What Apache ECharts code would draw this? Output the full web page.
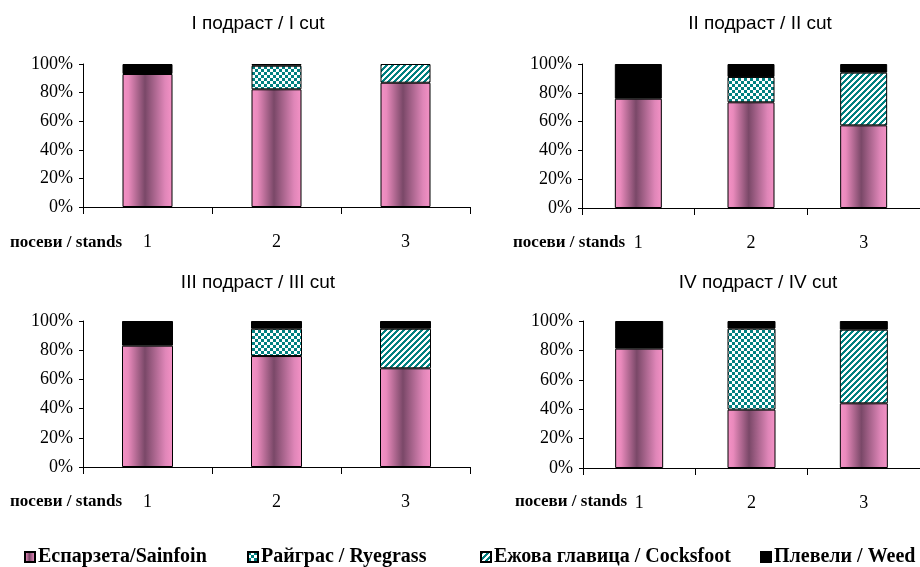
<!DOCTYPE html>
<html><head><meta charset="utf-8">
<script src="https://cdn.jsdelivr.net/npm/echarts@6/dist/echarts.min.js"></script>
<style>html,body{margin:0;padding:0;background:#fff}#c{width:920px;height:567px}</style>
</head><body><div id="c"></div><script>
// ---- data ----
const categories = ['1', '2', '3'];
const panelTitles = ['I подраст / I cut', 'II подраст / II cut', 'III подраст / III cut', 'IV подраст / IV cut'];
const xAxisName = 'посеви / stands';
const seriesNames = ['Еспарзета/Sainfoin', 'Райграс / Ryegrass', 'Ежова главица / Cocksfoot', 'Плевели / Weed'];
const yMin = 0, yMax = 100, yStep = 20;
const sainfoin  = [[93, 82.3, 86.9], [75.9, 73.4, 57.4], [83.1, 76, 67.6], [81.2, 39.7, 44]];
const ryegrass  = [[null, 16.5, null], [null, 17.6, null], [null, 18.7, null], [null, 55.1, null]];
const cocksfoot = [[null, null, 13.1], [null, null, 36.6], [null, null, 27.1], [null, null, 50.1]];
const weeds     = [[7, 1.2, null], [24.1, 9, 6], [16.9, 5.3, 5.3], [18.8, 5.2, 5.9]];

// ---- layout / styles ----
const grids = [
  {left: 83, top: 64, width: 387, height: 143},
  {left: 582, top: 64, width: 351, height: 144},
  {left: 83, top: 321, width: 387, height: 146},
  {left: 583, top: 321, width: 360, height: 147}
];
const barWidths = [50, 47, 51, 48];
const titlePos = [[258, 24], [760, 24], [258, 283], [758, 283]];
const namePos = [[10, 243], [513, 243], [10, 502], [515, 502]];
const legendLeft = [24, 247, 480, 760];
const TEAL = '#008080';
const serif = '"Liberation Serif", "Times New Roman", serif';
const sans = '"Liberation Sans", Arial, sans-serif';

function checker() {
  const c = document.createElement('canvas'); c.width = 6; c.height = 6;
  const g = c.getContext('2d');
  g.fillStyle = '#fff'; g.fillRect(0, 0, 6, 6);
  g.fillStyle = TEAL; g.fillRect(0, 0, 3, 3); g.fillRect(3, 3, 3, 3);
  return c;
}
function diag() {
  const c = document.createElement('canvas'); c.width = 6; c.height = 6;
  const g = c.getContext('2d');
  for (let x = 0; x < 6; x++) for (let y = 0; y < 6; y++) {
    g.fillStyle = ((x + y) % 6) < 3 ? TEAL : '#fff';
    g.fillRect(x, y, 1, 1);
  }
  return c;
}
const sainfoinColor = new echarts.graphic.LinearGradient(0, 0, 1, 0, [
  {offset: 0, color: '#f592c6'},
  {offset: 0.12, color: '#e98abc'},
  {offset: 0.45, color: '#7a4868'},
  {offset: 0.85, color: '#df86b8'},
  {offset: 1, color: '#f592c6'}
]);
const colors = [sainfoinColor, {image: checker(), repeat: 'repeat'}, {image: diag(), repeat: 'repeat'}, '#000'];
const dataSets = [sainfoin, ryegrass, cocksfoot, weeds];

const xAxes = [], yAxes = [], series = [], graphics = [];
grids.forEach((g, i) => {
  xAxes.push({
    type: 'category', gridIndex: i, data: categories,
    axisLine: {lineStyle: {color: '#000', width: 1}},
    axisTick: {show: true, length: 7, lineStyle: {color: '#000'}},
    axisLabel: {margin: 26, fontFamily: serif, fontSize: 18, color: '#000'},
    splitLine: {show: false}
  });
  yAxes.push({
    type: 'value', gridIndex: i, min: yMin, max: yMax, interval: yStep,
    axisLine: {show: true, lineStyle: {color: '#000', width: 1}},
    axisTick: {show: true, length: 4, lineStyle: {color: '#000'}},
    axisLabel: {margin: 10, fontFamily: serif, fontSize: 18, color: '#000', formatter: '{value}%'},
    splitLine: {show: false}
  });
  dataSets.forEach((ds, k) => {
    series.push({
      type: 'bar', name: seriesNames[k], xAxisIndex: i, yAxisIndex: i,
      stack: 'p' + i, barWidth: barWidths[i], data: ds[i],
      itemStyle: {color: colors[k], borderColor: '#000', borderWidth: 1},
      emphasis: {disabled: true}, animation: false
    });
  });
  graphics.push({
    type: 'text', x: titlePos[i][0], y: titlePos[i][1],
    style: {text: panelTitles[i], font: '19px ' + sans, fill: '#000', textAlign: 'center', textVerticalAlign: 'middle'}
  });
  graphics.push({
    type: 'text', x: namePos[i][0], y: namePos[i][1],
    style: {text: xAxisName, font: 'bold 17px ' + serif, fill: '#000', textAlign: 'left', textVerticalAlign: 'middle'}
  });
});

const legends = seriesNames.map((n, k) => ({
  data: [n], left: legendLeft[k], top: 547, icon: 'rect',
  itemWidth: 10, itemHeight: 10, itemGap: 4, padding: 0,
  textStyle: {fontFamily: serif, fontWeight: 'bold', fontSize: 20, color: '#000', padding: [0, 0, 0, -2]},
  selectedMode: false
}));

const chart = echarts.init(document.getElementById('c'), null, {renderer: 'canvas'});
chart.setOption({
  backgroundColor: '#fff',
  animation: false,
  grid: grids.map(g => Object.assign({containLabel: false}, g)),
  xAxis: xAxes, yAxis: yAxes, series: series,
  legend: legends,
  graphic: graphics
});
</script></body></html>
